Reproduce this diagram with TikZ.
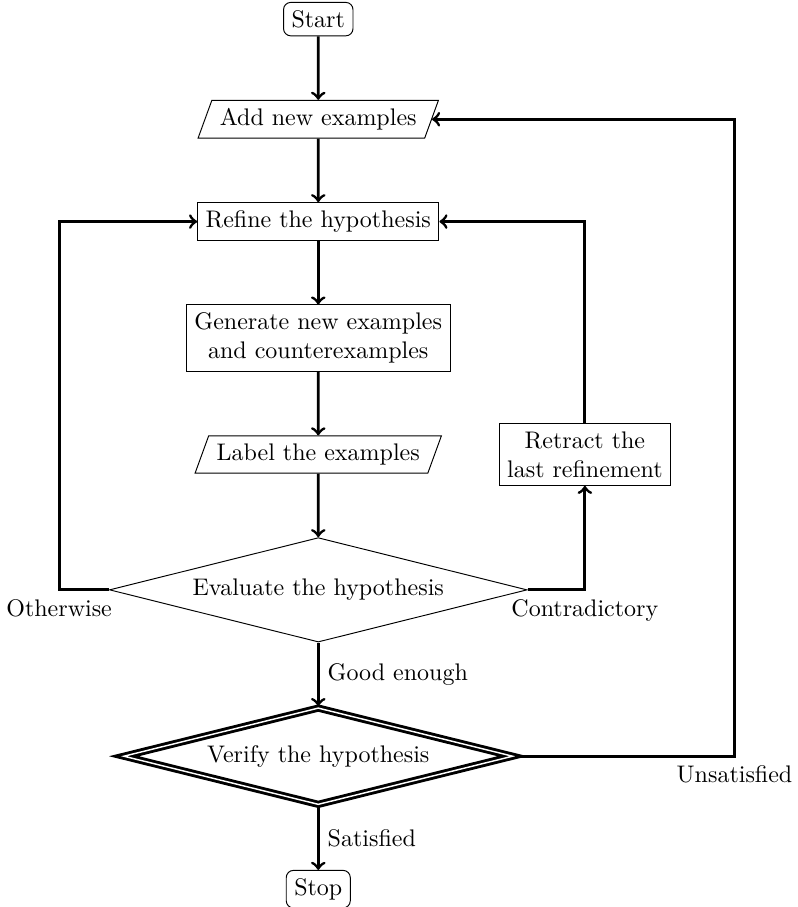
\documentclass[tikz,border=0pt]{standalone}
\usetikzlibrary{shapes.geometric,positioning}
\begin{document}
\begin{tikzpicture}[node distance=0.93cm]
  \tikzstyle{term}=[draw,rounded corners=3pt]
  \tikzstyle{proc}=[draw,align=center]
  \tikzstyle{io}=[draw,trapezium,trapezium left angle=70,trapezium right angle=110,trapezium stretches body]
  \tikzstyle{decide}=[draw,diamond,aspect=4]
  \tikzstyle{flow}=[very thick,->]
  \useasboundingbox (-4.66,0.28) rectangle (7.01,-13.0);
  \node[term] (start) {Start};
  \node[io,below=of start] (add) {Add new examples};
  \node[proc,below=of add] (refine) {Refine the hypothesis};
  \node[proc,below=of refine] (gen) {Generate new examples\\and counterexamples};
  \node[io,below=of gen] (label) {Label the examples};
  \node[decide,below=of label] (eval) {Evaluate the hypothesis};
  \node[decide,double,very thick,below=of eval] (verify) {Verify the hypothesis};
  \node[term,below=of verify] (stop) {Stop};
  \node[proc,right=0.93cm of label] (retract) {Retract the\\last refinement};
  \draw[flow] (start) -- (add);
  \draw[flow] (add) -- (refine);
  \draw[flow] (refine) -- (gen);
  \draw[flow] (gen) -- (label);
  \draw[flow] (label) -- (eval);
  \draw[flow] (eval) -- node[right] {Good enough} (verify);
  \draw[flow] (verify) -- node[right] {Satisfied} (stop);
  \draw[flow] (eval.west) -- ++(-0.73,0) node[below] {Otherwise} |- (refine.west);
  \draw[flow] (eval.east) -| node[pos=0.5,below] {Contradictory} (retract.south);
  \draw[flow] (retract.north) |- (refine.east);
  \draw[flow] (verify.east) -- ++(3.22,0) node[below] {Unsatisfied} |- (add.east);
\end{tikzpicture}
\end{document}
